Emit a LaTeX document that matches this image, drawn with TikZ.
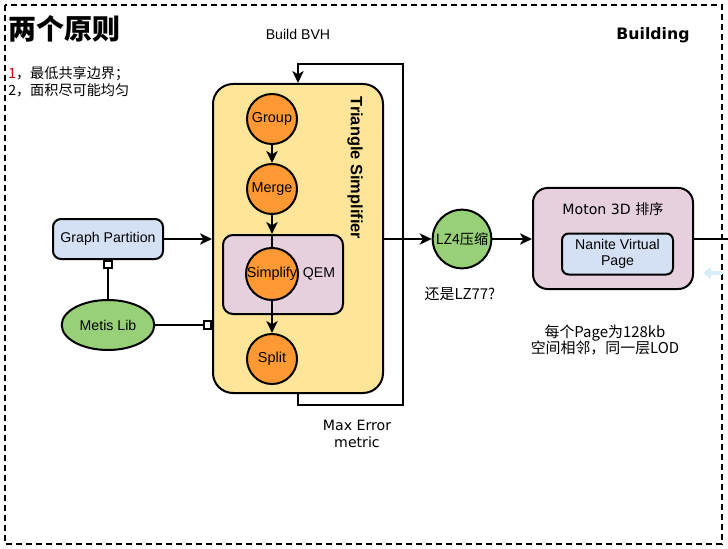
\documentclass[tikz,border=0pt]{standalone}
\usepackage{fontspec}
\setmainfont{Liberation Sans}
\newfontfamily\cjk{Noto Sans CJK SC}
\newfontfamily\dvs{DejaVu Sans}
\usetikzlibrary{arrows.meta}
\usetikzlibrary{shapes.geometric}

\definecolor{simpyellow}{HTML}{FFE599}
\definecolor{stepOrange}{HTML}{FF9933}
\definecolor{libGreen}{HTML}{97D077}
\definecolor{partBlue}{HTML}{D4E1F5}
\definecolor{qemPink}{HTML}{E6D0DE}
\definecolor{hintBlue}{HTML}{D8EEFA}

\tikzset{
  line/.style = {black, line width=1.5pt},
  arr/.style = {line, -{Stealth[length=9pt,width=8.5pt,inset=2.5pt]}},
  sq/.style = {line, -{Square[open,fill=white,length=7pt,width=7pt]}},
  stepcirc/.style = {circle, draw, line width=1.5pt, fill=stepOrange,
    minimum size=37.5pt, inner sep=0pt, font=\fontsize{10.8}{12}\selectfont},
  roundbox/.style = {draw, line width=1.5pt, rounded corners=#1},
  roundbox/.default = 6pt,
  small/.style = {font=\fontsize{10.6}{12}\selectfont},
  cjktext/.style = {font=\cjk\fontsize{#1}{13}\selectfont},
  cjktext/.default = 10.8,
}

\begin{document}
\begin{tikzpicture}[x=0.75pt, y=-0.75pt]
\useasboundingbox (0,0) rectangle (728,549);
\draw[line, dash pattern=on 4.5pt off 3pt] (5,5) rectangle (722,544);

% titles and notes
\node[anchor=west, inner sep=0, font=\cjk\bfseries\fontsize{21}{24}\selectfont] (title) at (8,29) {两个原则};
\node[anchor=west, inner sep=0, cjktext=10.6] (rule1) at (8,74) {\textcolor{red!75!black}{1}，最低共享边界；};
\node[anchor=west, inner sep=0, cjktext=10.6] (rule2) at (8,90) {2，面积尽可能均匀};
\node[small] (bvh) at (298,34) {Build BVH};
\node[font=\dvs\bfseries\fontsize{11.8}{13}\selectfont] (building) at (653,35) {Building};

% triangle simplifier
\node[roundbox=15pt, fill=simpyellow, minimum width=127.5pt, minimum height=231.75pt] (tri) at (298,238.5) {};
\node[rotate=-90, font=\bfseries\fontsize{12.3}{14}\selectfont] (trilabel) at (355,168) {Triangle Simplifier};
\node[roundbox=7.5pt, fill=qemPink, minimum width=90pt, minimum height=59.25pt] (qembox) at (283,274.5) {};
\node[small] (qem) at (319,274) {QEM};
\node[stepcirc] (group) at (272,119) {Group};
\node[stepcirc] (merge) at (272,189) {Merge};
\node[stepcirc] (simplify) at (272,274) {Simplify};
\node[stepcirc] (split) at (272,359) {Split};
\draw[arr] (group) -- (merge);
\draw[arr] (merge) -- (qembox.north -| merge);
\draw[line] (qembox.north -| merge) -- (simplify);
\draw[arr] (simplify) -- (split);

% partition
\node[roundbox, fill=partBlue, minimum width=82.5pt, minimum height=30pt, small] (part) at (108,239) {Graph Partition};
\node[ellipse, draw, line width=1.5pt, fill=libGreen, minimum width=67.5pt, minimum height=37.5pt, small] (metis) at (108,325) {Metis Lib};
\draw[arr] (part) -- (tri.west |- part);
\draw[sq] (metis) -- (part);
\draw[sq] (metis.east) -- (tri.west |- metis.east);

% loop back
\coordinate (loopcorner) at (403,64);
\draw[arr] (tri.south) -- ++(0,11) -| (loopcorner) -| (tri.north);
\node[font=\dvs\fontsize{10.6}{12.3}\selectfont, align=center] (maxerr) at (357,434) {Max Error\\metric};

% compression and paging
\node[circle, draw, line width=1.5pt, fill=libGreen, minimum size=44pt, inner sep=0pt, cjktext=10.6] (lz4) at (462,239) {LZ4压缩};
\node[cjktext=11.2] (lz77) at (460,294) {还是LZ77?};
\draw[arr] (tri.east |- lz4) -- (lz4);
\node[roundbox=11pt, fill=qemPink, minimum width=120pt, minimum height=75.75pt] (moton) at (613,238.5) {};
\node[font=\dvs\fontsize{10.6}{12}\selectfont] (motonlabel) at (613,209) {Moton 3D {\cjk 排序}};
\node[roundbox=5pt, fill=partBlue, minimum width=83.25pt, minimum height=30.75pt, align=center, font=\fontsize{10.6}{12}\selectfont] (page) at (617.5,254) {Nanite Virtual\\Page};
\draw[arr] (lz4) -- (moton.west |- lz4);
\coordinate (offright) at (728,239);
\draw[line] (moton.east |- offright) -- (offright);
\node[align=center, font=\cjk\fontsize{11.2}{12.3}\selectfont] (pagenote) at (605,340) {每个Page为128kb\\空间相邻，同一层LOD};

% hint arrow cut by the edge
\draw[hintBlue, line width=2.5pt, -{Triangle[length=6pt,width=9pt]}] (722,273) -- (703,273);
\end{tikzpicture}
\end{document}
